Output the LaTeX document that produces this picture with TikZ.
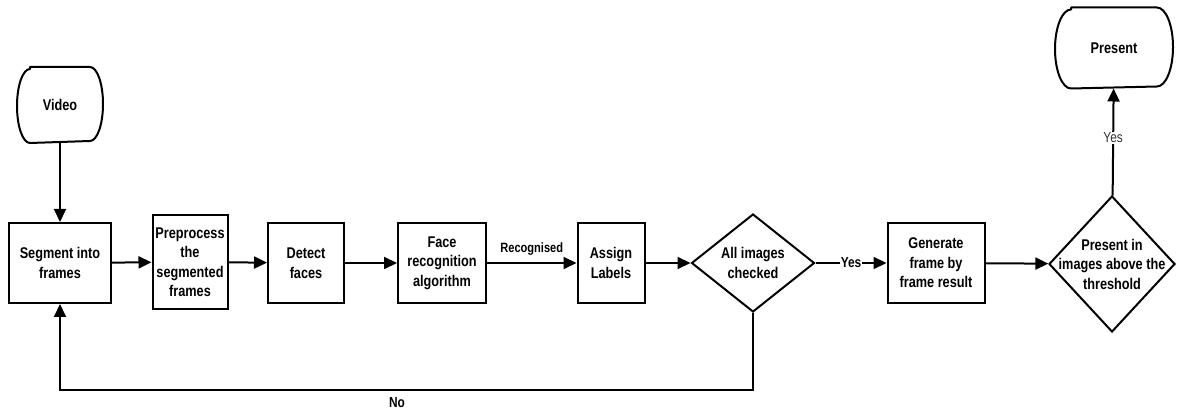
\documentclass[tikz,border=0pt]{standalone}
\usepackage{fontspec}
\setmainfont{Liberation Sans}[FakeStretch=0.82]
\usetikzlibrary{shapes.geometric,arrows.meta}
\tikzset{
  base/.style={draw=black, line width=2pt, align=center, inner sep=0pt, font=\bfseries\fontsize{15.5}{19.5}\selectfont},
  procbox/.style={base, rectangle},
  term/.style={base, rectangle, draw=none},
  decide/.style={base, diamond},
  conn/.style={line width=2pt, -{Triangle[length=13pt,width=12pt]}},
  outline/.style={line width=2pt, line join=round},
  lbl/.style={font=\bfseries\fontsize{14.5}{17}\selectfont, inner sep=1pt},
}
\newcommand\termoutline[3]{\draw[outline] ([xshift=#2]#1.north west) -- ([xshift=-#2]#1.north east) arc[start angle=90,end angle=-90,x radius=#2,y radius=#3] -- ([xshift=#2]#1.south west) arc[start angle=270,end angle=90,x radius=#2,y radius=#3] -- cycle;}
\begin{document}
\begin{tikzpicture}[x=1pt,y=-1pt]
\useasboundingbox (0,0) rectangle (1177,411);
\node[term, minimum width=84pt, minimum height=74pt] (video) at (60,105) {Video};
\termoutline{video}{13pt}{37pt}
\node[procbox, minimum width=102pt, minimum height=80pt] (seg) at (60,263) {Segment into\\frames};
\node[procbox, minimum width=75pt, minimum height=94pt] (pre) at (190,262) {Preprocess\\the\\segmented\\frames};
\node[procbox, minimum width=76pt, minimum height=80pt] (det) at (306,263) {Detect\\faces};
\node[procbox, minimum width=88pt, minimum height=80pt] (face) at (442,263) {Face\\recognition\\algorithm};
\node[procbox, minimum width=67pt, minimum height=80pt] (assign) at (611,263) {Assign\\Labels};
\node[decide, minimum width=123pt, minimum height=98pt, label={[base,draw=none]center:All images\\checked}] (chk) at (753,263) {};
\node[procbox, minimum width=97pt, minimum height=80pt] (gen) at (936,263) {Generate\\frame by\\frame result};
\node[decide, minimum width=126pt, minimum height=136pt, label={[base,draw=none]center:Present in\\images above the\\threshold}] (thr) at (1112,264) {};
\node[term, minimum width=116pt, minimum height=79pt] (present) at (1114,48) {Present};
\termoutline{present}{16pt}{39.5pt}
\coordinate (c1) at (753,390);
\coordinate (c2) at (60,390);

\draw[conn] (video) -- (seg);
\draw[conn] (seg) -- (pre);
\draw[conn] (pre) -- (det);
\draw[conn] (det) -- (face);
\draw[conn] (face) -- node[lbl, font=\bfseries\fontsize{13.5}{16}\selectfont, above=6pt] {Recognised} (assign);
\draw[conn] (assign) -- (chk);
\draw[conn] (chk) -- node[lbl, fill=white, pos=0.5] {Yes} (gen);
\draw[conn] (gen) -- (thr);
\draw[conn] (thr) -- node[lbl, fill=white, font=\fontsize{14.5}{17}\selectfont, text=black!80, pos=0.54] {Yes} (present);
\draw[conn] (chk.south) -- (c1) -- (c2) -- (seg.south);
\node[lbl] (no) at (397,403) {No};
\end{tikzpicture}
\end{document}
